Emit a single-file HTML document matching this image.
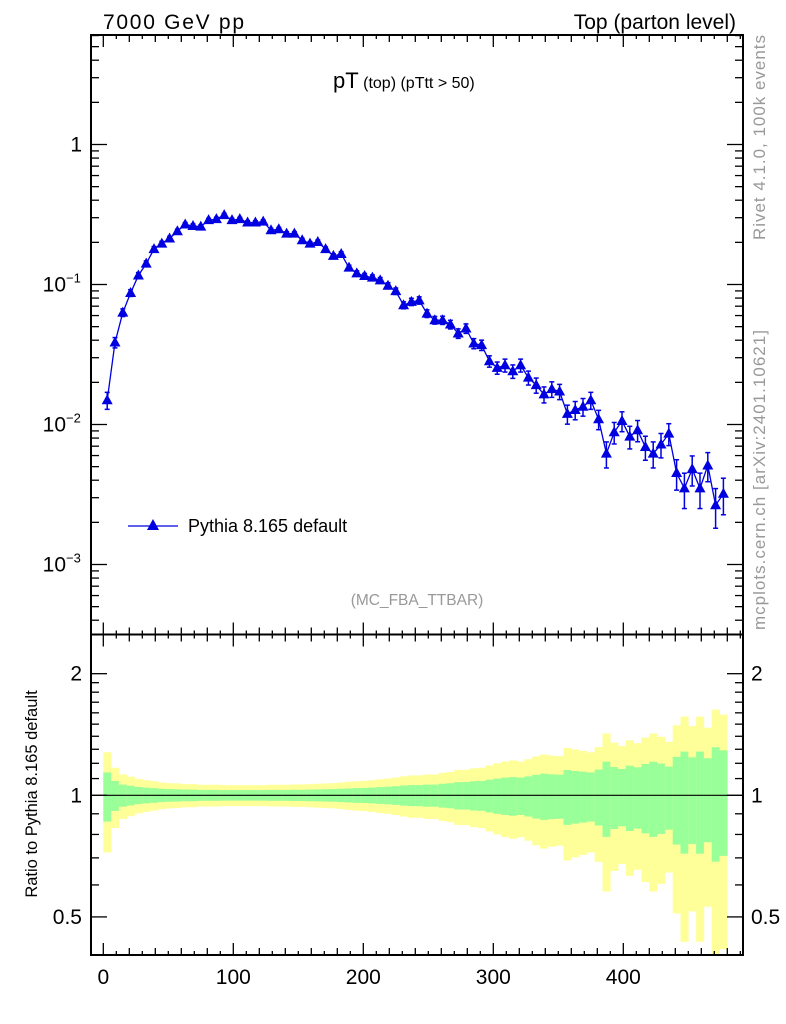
<!DOCTYPE html>
<html><head><meta charset="utf-8">
<style>
body{margin:0;background:#fff;}
svg{display:block;font-family:"Liberation Sans",Arial,sans-serif;}
</style></head>
<body>
<svg id="chart" width="786" height="1024" viewBox="0 0 786 1024">
<g id="bands"></g>
<g id="axes"></g>
<g id="series"></g>
<text x="103" y="29" font-size="21" textLength="141">7000 GeV pp</text>
<text x="736" y="29" font-size="21" text-anchor="end">Top (parton level)</text>
<text x="333" y="88"><tspan font-size="22">pT</tspan><tspan font-size="16"> (top) (pTtt &gt; 50)</tspan></text>
<text x="417" y="605" font-size="15.5" fill="#999" text-anchor="middle">(MC_FBA_TTBAR)</text>
<text transform="translate(765,240) rotate(-90)" font-size="17" fill="#999" textLength="205">Rivet 4.1.0,  100k events</text>
<text transform="translate(765,630) rotate(-90)" font-size="17" fill="#999" textLength="300">mcplots.cern.ch [arXiv:2401.10621]</text>
<text transform="translate(37,794) rotate(-90)" font-size="16.5" text-anchor="middle">Ratio to Pythia 8.165 default</text>
<g>
<line x1="128" y1="526" x2="178" y2="526" stroke="#0000e0" stroke-width="1.3"/>
<polygon points="153,519 159,530 147,530" fill="#0000e0"/>
<text x="188" y="532" font-size="18">Pythia 8.165 default</text>
</g>
</svg>
<script>
const binWidth = 6;
const values = [0.0149,0.0385,0.063,0.087,0.116,0.141,0.179,0.196,0.213,0.240,0.268,0.262,0.259,0.288,0.293,0.313,0.288,0.293,0.277,0.277,0.281,0.244,0.248,0.231,0.231,0.207,0.196,0.201,0.179,0.160,0.165,0.132,0.120,0.115,0.112,0.107,0.098,0.0896,0.0711,0.0752,0.077,0.062,0.0556,0.0556,0.0518,0.0447,0.0485,0.0379,0.0369,0.0283,0.0254,0.0265,0.024,0.0265,0.0216,0.0191,0.0164,0.0179,0.0172,0.0119,0.0127,0.0134,0.0149,0.0109,0.0062,0.0088,0.0106,0.0082,0.0091,0.0069,0.0062,0.0072,0.0086,0.0045,0.0035,0.0048,0.0035,0.0051,0.00265,0.0032];
const statErr = [0.139,0.085,0.063,0.056,0.049,0.045,0.042,0.038,0.036,0.035,0.033,0.033,0.031,0.031,0.031,0.030,0.030,0.030,0.030,0.030,0.030,0.031,0.031,0.031,0.032,0.032,0.033,0.034,0.035,0.036,0.038,0.040,0.042,0.043,0.045,0.048,0.050,0.053,0.057,0.060,0.060,0.063,0.063,0.068,0.071,0.078,0.078,0.083,0.085,0.093,0.10,0.106,0.11,0.106,0.114,0.124,0.131,0.127,0.125,0.155,0.149,0.144,0.139,0.158,0.211,0.175,0.162,0.184,0.173,0.195,0.211,0.198,0.178,0.245,0.283,0.242,0.283,0.235,0.315,0.292];
const xTickLabels = ["0","100","200","300","400"];
const mainYLabels = [["1",""],["10","\u22121"],["10","\u22122"],["10","\u22123"]];
const ratioYLabels = ["0.5","1","2"];

const NS="http://www.w3.org/2000/svg";
const L=91,R=743,T=35,D=634.5,B=955;
const X=v=>103.3+1.3*v;
const Y=v=>144.5-140*Math.log10(v);
const YR=v=>795.3-404*Math.log10(v);
function mk(parent,tag,attrs){const e=document.createElementNS(NS,tag);for(const k in attrs)e.setAttribute(k,attrs[k]);parent.appendChild(e);return e;}
const bands=document.getElementById('bands'),axes=document.getElementById('axes'),series=document.getElementById('series');
const clipR=v=>Math.min(Math.max(YR(v),D),B);

values.forEach((v,i)=>{
  const x0=X(i*binWidth),x1=X((i+1)*binWidth),e=statErr[i];
  const y=mk(bands,'rect',{x:x0,y:clipR(1+2*e),width:x1-x0+0.3,height:clipR(1-2*e)-clipR(1+2*e),fill:'#ffff99'});
  
  
  const g=mk(bands,'rect',{x:x0,y:clipR(1+e),width:x1-x0+0.3,height:clipR(1-e)-clipR(1+e),fill:'#99ff99'});
  
  
});
mk(bands,'line',{x1:L,x2:R,y1:YR(1),y2:YR(1),stroke:'#000','stroke-width':1.2});

mk(axes,'rect',{x:L,y:T,width:R-L,height:D-T,fill:'none',stroke:'#000','stroke-width':2});
mk(axes,'rect',{x:L,y:D,width:R-L,height:B-D,fill:'none',stroke:'#000','stroke-width':2});

for(let v=0;v<=490;v+=10){
  const x=X(v);const len=v%100===0?12:(v%20===0?7:4);
  [[T,1],[D,-1],[D,1],[B,-1]].forEach(([y0,s])=>mk(axes,'line',{x1:x,x2:x,y1:y0,y2:y0+s*len,stroke:'#000','stroke-width':1.3}));
}
xTickLabels.forEach((t,i)=>{
  const el=mk(axes,'text',{x:X(i*100),y:984,'font-size':21,'text-anchor':'middle'});el.textContent=t;
  
  
});

for(let d=-4;d<=0;d++){for(let m=1;m<=9;m++){
  const v=m*Math.pow(10,d);const y=Y(v);if(y<T||y>D)continue;
  const len=m===1?16:8;
  mk(axes,'line',{x1:L,x2:L+len,y1:y,y2:y,stroke:'#000','stroke-width':1.3});
  mk(axes,'line',{x1:R,x2:R-len,y1:y,y2:y,stroke:'#000','stroke-width':1.3});
}}
mainYLabels.forEach((lab,i)=>{
  const y=Y(Math.pow(10,-i))+7;
  const el=mk(axes,'text',{x:i===0?82:66,y:y,'font-size':21,'text-anchor':'end'});
  el.textContent=lab[0];
  
  
  if(lab[1]){const s=mk(axes,'text',{x:66,y:y-9,'font-size':13});s.textContent=lab[1];}
});

[0.4,0.5,0.6,0.7,0.8,0.9,1,1.1,1.2,1.3,1.4,1.5,1.6,1.7,1.8,1.9,2,2.5].forEach(v=>{
  const y=YR(v);if(y<D||y>B)return;
  const len=(v===0.5||v===1||v===2)?16:8;
  mk(axes,'line',{x1:L,x2:L+len,y1:y,y2:y,stroke:'#000','stroke-width':1.3});
  mk(axes,'line',{x1:R,x2:R-len,y1:y,y2:y,stroke:'#000','stroke-width':1.3});
});
ratioYLabels.forEach(t=>{
  const y=YR(parseFloat(t))+7;
  const a=mk(axes,'text',{x:82,y:y,'font-size':21,'text-anchor':'end'});a.textContent=t;
  
  
  const b=mk(axes,'text',{x:751,y:y,'font-size':21});b.textContent=t;
  
  
});

const pts=values.map((v,i)=>[X(binWidth*(i+0.5)),Y(v)]);
const line=mk(series,'polyline',{points:pts.map(p=>p.join(',')).join(' '),fill:'none',stroke:'#0000e0','stroke-width':1.3});


values.forEach((v,i)=>{
  const x=pts[i][0],y=pts[i][1],e=statErr[i];
  const y1=Y(v*(1+e)),y2=Y(Math.max(v*(1-e),1e-6));
  mk(series,'line',{x1:x,x2:x,y1:y1,y2:y2,stroke:'#0000e0','stroke-width':1.5});
  mk(series,'line',{x1:x-2.5,x2:x+2.5,y1:y1,y2:y1,stroke:'#0000e0','stroke-width':1.5});
  mk(series,'line',{x1:x-2.5,x2:x+2.5,y1:y2,y2:y2,stroke:'#0000e0','stroke-width':1.5});
  const m=mk(series,'polygon',{points:`${x},${y-6} ${x+5.5},${y+4} ${x-5.5},${y+4}`,fill:'#0000e0'});
  
  
});
</script>
</body></html>
